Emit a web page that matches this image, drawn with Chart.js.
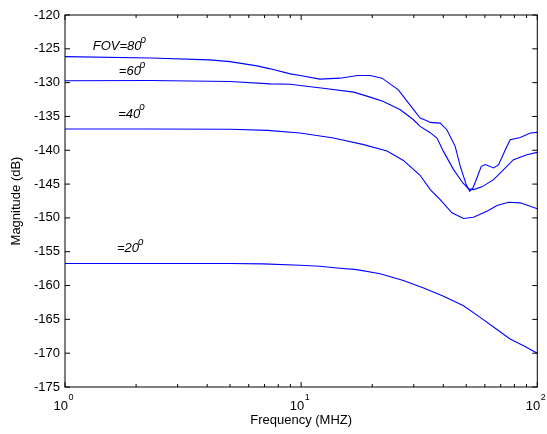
<!DOCTYPE html>
<html>
<head>
<meta charset="utf-8">
<script src="https://cdn.jsdelivr.net/npm/chart.js@4.4.1/dist/chart.umd.min.js"></script>
<style>
  html, body { margin: 0; padding: 0; background: #fff; }
  #wrap { width: 547px; height: 434px; }
</style>
</head>
<body>
<div id="wrap"><canvas id="fovChart"></canvas></div>
<script>
// values: frequency in MHz, magnitude in dB
const freq80 = [1, 2.3, 4.1, 5, 6.5, 7.4, 9, 9.9, 12, 14.6, 17.3, 19.6, 22, 25.8, 28.5, 31.9, 34.1, 35.2, 38.8, 41.4, 44.9, 47.2, 50, 51.7, 53.4, 55.5, 57.9, 60.2, 65.3, 68.6, 73.2, 76.8, 84.7, 93.4, 100];
const mag80 = [-126.15, -126.35, -126.64, -126.9, -127.52, -127.96, -128.7, -128.95, -129.48, -129.34, -128.95, -128.95, -129.34, -131.06, -133.03, -135.24, -135.63, -135.88, -135.98, -136.96, -139.42, -142.37, -145.07, -146.06, -145.56, -144.09, -142.37, -142.12, -142.61, -142.12, -139.91, -138.44, -138.1, -137.45, -137.36];

const freq60 = [1, 2.3, 5, 7.4, 9, 9.9, 12.4, 16.7, 19.6, 22.3, 26.3, 29.9, 31.9, 35.2, 37.6, 40.1, 44.2, 48.4, 51.2, 53.7, 58.3, 65.3, 72, 79.3, 90.4, 100];
const mag60 = [-129.73, -129.69, -129.83, -130.18, -130.23, -130.42, -130.82, -131.4, -132.14, -132.78, -134.01, -135.49, -136.47, -137.4, -138.2, -140.2, -142.86, -144.83, -145.71, -145.81, -145.41, -144.34, -142.86, -141.39, -140.65, -140.31];

const freq40 = [1, 2.3, 5, 7.2, 9.9, 13.7, 18.4, 23.1, 27.1, 31.9, 35.2, 38.8, 43.5, 48.7, 53.7, 61.2, 67.5, 75.6, 84.7, 100];
const mag40 = [-136.86, -136.86, -136.9, -137.06, -137.45, -138.19, -139.17, -140.1, -141.5, -143.7, -145.81, -147.29, -149.25, -150.09, -149.9, -149.01, -148.17, -147.68, -147.77, -148.66];

const freq20 = [1, 5, 6.9, 9.9, 12, 14.2, 17.2, 21.6, 27.1, 33, 40.1, 48.7, 57.3, 67.5, 76.7, 87.5, 100];
const mag20 = [-156.75, -156.75, -156.8, -157.0, -157.15, -157.4, -157.65, -158.25, -159.25, -160.35, -161.6, -163.0, -164.7, -166.5, -167.9, -168.9, -170.0];

// axis ticks
const yTickValues = [-175, -170, -165, -160, -155, -150, -145, -140, -135, -130, -125, -120];
const xDecades = [1, 10, 100];
const xDecadeExp = ['0', '1', '2'];
const xMinorTicks = [2, 3, 4, 5, 6, 7, 8, 9, 20, 30, 40, 50, 60, 70, 80, 90];

// curve labels and where they sit (data units)
const curveLabels = ['FOV=80', '=60', '=40', '=20'];
const labelFreq = [1.31, 1.69, 1.68, 1.66];
const labelMag = [-125.2, -128.9, -135.2, -155.1];

const FONT = "'Liberation Sans', Arial, sans-serif";

function toPoints(xs, ys) {
    return xs.map((f, i) => ({ x: f, y: ys[i] }));
}

// box, inward ticks, x tick labels with exponents, curve labels
const matlabAxes = {
    id: 'matlabAxes',
    afterDatasetsDraw(chart) {
        const { ctx, chartArea: a, scales: { x, y } } = chart;
        ctx.save();
        ctx.strokeStyle = '#000';
        ctx.lineWidth = 1;
        ctx.strokeRect(a.left, a.top, a.right - a.left, a.bottom - a.top);

        ctx.beginPath();
        yTickValues.forEach(v => {
            const py = y.getPixelForValue(v);
            ctx.moveTo(a.left, py); ctx.lineTo(a.left + 5, py);
            ctx.moveTo(a.right, py); ctx.lineTo(a.right - 5, py);
        });
        xDecades.forEach(v => {
            const px = x.getPixelForValue(v);
            ctx.moveTo(px, a.bottom); ctx.lineTo(px, a.bottom - 5);
            ctx.moveTo(px, a.top); ctx.lineTo(px, a.top + 5);
        });
        xMinorTicks.forEach(v => {
            const px = x.getPixelForValue(v);
            ctx.moveTo(px, a.bottom); ctx.lineTo(px, a.bottom - 3);
            ctx.moveTo(px, a.top); ctx.lineTo(px, a.top + 3);
        });
        ctx.stroke();

        // 10^n labels under the x axis
        ctx.fillStyle = '#000';
        ctx.textBaseline = 'alphabetic';
        xDecades.forEach((v, i) => {
            const px = x.getPixelForValue(v);
            ctx.font = '13px ' + FONT;
            ctx.textAlign = 'right';
            ctx.fillText('10', px + 3, a.bottom + 22.5);
            ctx.font = '9px ' + FONT;
            ctx.textAlign = 'left';
            ctx.fillText(xDecadeExp[i], px + 3.5, a.bottom + 13);
        });

        // FOV labels
        curveLabels.forEach((txt, i) => {
            const px = x.getPixelForValue(labelFreq[i]);
            const py = y.getPixelForValue(labelMag[i]);
            ctx.font = 'italic 13px ' + FONT;
            ctx.textAlign = 'left';
            ctx.fillText(txt, px, py);
            const w = ctx.measureText(txt).width;
            ctx.font = 'italic 10px ' + FONT;
            ctx.fillText('o', px + w - 1, py - 7.5);
        });
        ctx.restore();
    }
};

function curve(xs, ys) {
    return {
        data: toPoints(xs, ys),
        borderColor: '#0000ff',
        borderWidth: 1.1,
        pointRadius: 0,
        tension: 0,
        fill: false
    };
}

new Chart(document.getElementById('fovChart'), {
    type: 'line',
    data: {
        datasets: [
            curve(freq80, mag80),
            curve(freq60, mag60),
            curve(freq40, mag40),
            curve(freq20, mag20)
        ]
    },
    options: {
        responsive: true,
        maintainAspectRatio: false,
        animation: false,
        layout: { padding: { top: 15, right: 9.7, left: 0, bottom: 0 } },
        scales: {
            x: {
                type: 'logarithmic',
                min: 1,
                max: 100,
                afterFit: s => { s.height = 47; },
                grid: { display: false, drawTicks: false },
                border: { display: false },
                ticks: { display: false },
                title: {
                    display: true,
                    text: 'Frequency (MHZ)',
                    color: '#000',
                    font: { family: FONT, size: 13 },
                    padding: { top: 0, bottom: 6 }
                }
            },
            y: {
                min: -175,
                max: -120,
                afterBuildTicks: s => { s.ticks = yTickValues.map(v => ({ value: v })); },
                afterFit: s => { s.width = 65; },
                grid: { display: false, drawTicks: false },
                border: { display: false },
                ticks: { color: '#000', padding: 5, font: { family: FONT, size: 13 } },
                title: {
                    display: true,
                    text: 'Magnitude (dB)',
                    color: '#000',
                    font: { family: FONT, size: 13 },
                    padding: { top: 9, bottom: 0 }
                }
            }
        },
        plugins: {
            legend: { display: false },
            tooltip: { enabled: false }
        }
    },
    plugins: [matlabAxes]
});
</script>
</body>
</html>
